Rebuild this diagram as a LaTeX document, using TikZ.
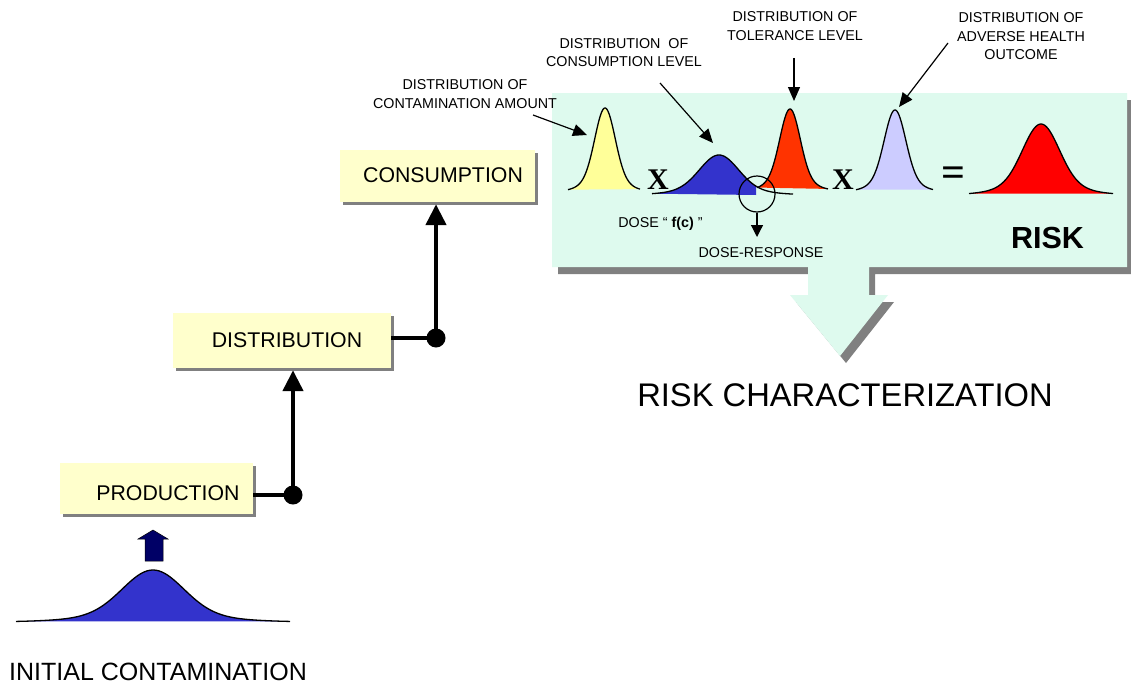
\documentclass[tikz,border=0pt]{standalone}
\usepackage{fontspec}
\setmainfont{Liberation Sans}
\newfontfamily\symserif{Liberation Serif}
\usetikzlibrary{arrows.meta,shadows}

\definecolor{panelgreen}{HTML}{DEFAEE}
\definecolor{boxyellow}{HTML}{FFFFCC}
\definecolor{shadowgray}{HTML}{808080}
\definecolor{amountyellow}{HTML}{FFFF99}
\definecolor{doseblue}{HTML}{3333CC}
\definecolor{toleranceorange}{HTML}{FF3300}
\definecolor{outcomelilac}{HTML}{CCCCFF}
\definecolor{riskred}{HTML}{FF0000}
\definecolor{navyarrow}{HTML}{000066}

% bell-shaped distribution: left, right, centre, spread, baseline, height
\newcommand{\bellfill}[7]{%
  \fill[#7] plot[domain=#1:#2,samples=120]
    (\x,{#5-#6*(0.85*exp(-0.5*((\x-#3)/#4)^2)+0.15*exp(-0.125*((\x-#3)/#4)^2))}) -- cycle;}
\newcommand{\belldraw}[6]{%
  \draw[bellline] plot[domain=#1:#2,samples=120]
    (\x,{#5-#6*(0.85*exp(-0.5*((\x-#3)/#4)^2)+0.15*exp(-0.125*((\x-#3)/#4)^2))});}

\begin{document}
\begin{tikzpicture}[x=1pt,y=-1pt,
  bellline/.style={line width=1.3pt,line join=round},
  stagebox/.style={rectangle,fill=boxyellow,inner sep=0pt,
    drop shadow={shadow xshift=2.5pt,shadow yshift=-2.5pt,fill=shadowgray,opacity=1}},
  stagetext/.style={font=\fontsize{21.3}{24}\selectfont,anchor=base,inner sep=0pt},
  flow/.style={line width=4.5pt,-{Triangle[length=21pt,width=20pt]},shorten >=2pt},
  flowlink/.style={line width=4.5pt},
  joint/.style={circle,fill=black,inner sep=0pt,minimum size=19pt},
  small/.style={font=\fontsize{14.3}{18.5}\selectfont,align=center,inner sep=0pt},
  pointer/.style={line width=1.2pt,-{Triangle[length=14pt,width=12pt]}},
  mathsign/.style={font=\symserif\bfseries\fontsize{30}{32}\selectfont,anchor=base,inner sep=0pt}
]
\useasboundingbox (0,0) rectangle (1131,685);
\fill[white] (0,0) rectangle (1131,685);

% callout panel with its arrow, and shadow
\fill[shadowgray] (558,100) -- (1133,100) -- (1133,274) -- (875,274) -- (875,302)
  -- (894,302) -- (846,363) -- (796,302) -- (814,302) -- (814,274) -- (558,274) -- cycle;
\fill[panelgreen] (552,93) -- (1127,93) -- (1127,267) -- (869,267) -- (869,295)
  -- (888,295) -- (840,356) -- (790,295) -- (808,295) -- (808,267) -- (552,267) -- cycle;

% distributions inside the panel
\bellfill{568}{640}{605}{10}{192}{84}{amountyellow}
\belldraw{568}{640}{605}{10}{192}{84}
\fill[doseblue] plot[domain=652:756,samples=100]
  (\x,{195-40*(0.85*exp(-0.5*((\x-719)/19)^2)+0.15*exp(-0.125*((\x-719)/19)^2))})
  -- (756,195) -- cycle;
\bellfill{757}{828}{790}{10}{191}{82}{toleranceorange}
\belldraw{652}{793}{719}{19}{195}{40}
\belldraw{757}{828}{790}{10}{191}{82}
\bellfill{856}{933}{895}{10.5}{192}{82}{outcomelilac}
\belldraw{856}{933}{895}{10.5}{192}{82}
\bellfill{969}{1113}{1041}{18}{195}{71}{riskred}
\belldraw{969}{1113}{1041}{18}{195}{71}

\node[mathsign] (times1) at (658,189.5) {X};
\node[mathsign] (times2) at (843,189.5) {X};
\node[font=\symserif\bfseries\fontsize{42}{44}\selectfont,inner sep=0pt] (equals) at (953.5,176.5) {=};

% dose-response marker
\node[circle,draw,line width=1.2pt,minimum size=36pt,inner sep=0pt] (ring) at (757,194) {};
\coordinate (ringTip) at (757,237);
\draw[line width=1.2pt,-{Triangle[length=12pt,width=12pt]}] (ring.south) -- (ringTip);
\node[small,anchor=base] (dose) at (660.5,227.1) {DOSE “ \textbf{f(c)} ”};
\node[small,anchor=base] (response) at (761,257) {DOSE-RESPONSE};
\node[font=\bfseries\fontsize{30.5}{32}\selectfont,anchor=base,inner sep=0pt] (risk) at (1047.5,248) {RISK};

% labels with pointers
\node[small] (lblAmount) at (465,94) {DISTRIBUTION OF\\CONTAMINATION AMOUNT};
\node[small] (lblConsume) at (624,52.5) {DISTRIBUTION\ \ OF\\CONSUMPTION LEVEL};
\node[small] (lblTolerance) at (795,26) {DISTRIBUTION OF\\TOLERANCE LEVEL};
\node[small] (lblOutcome) at (1021,36.5) {DISTRIBUTION OF\\ADVERSE HEALTH\\OUTCOME};
\coordinate (amountFrom) at (533,115);   \coordinate (amountTo) at (587,135);
\coordinate (consumeFrom) at (660,83);   \coordinate (consumeTo) at (713,143);
\coordinate (toleranceFrom) at (794,58); \coordinate (toleranceTo) at (794,101);
\coordinate (outcomeFrom) at (948,43);   \coordinate (outcomeTo) at (899,107);
\draw[pointer] (amountFrom) -- (amountTo);
\draw[pointer] (consumeFrom) -- (consumeTo);
\draw[pointer] (toleranceFrom) -- (toleranceTo);
\draw[pointer] (outcomeFrom) -- (outcomeTo);

\node[font=\fontsize{32.7}{34}\selectfont,anchor=base,inner sep=0pt] (riskchar) at (845,406.5) {RISK CHARACTERIZATION};

% food chain stages
\node[stagebox,minimum width=193pt,minimum height=51pt] (prod) at (156.5,488.5) {};
\node[stagetext] (prodText) at (168,500.6) {PRODUCTION};
\node[stagebox,minimum width=218pt,minimum height=55pt] (dist) at (282,340.5) {};
\node[stagetext] (distText) at (287,347.6) {DISTRIBUTION};
\node[stagebox,minimum width=195pt,minimum height=52pt] (cons) at (437.5,176) {};
\node[stagetext] (consText) at (443,182.6) {CONSUMPTION};

\node[joint] (j1) at (293,495) {};
\node[joint] (j2) at (436,338) {};
\draw[flowlink] (prod.east |- j1) -- (j1.center);
\draw[flow] (j1.center) -- (dist.south -| j1);
\draw[flowlink] (dist.east |- j2) -- (j2.center);
\draw[flow] (j2.center) -- (cons.south -| j2);

% initial contamination
\bellfill{16}{290}{153}{30}{622}{52}{doseblue}
\belldraw{16}{290}{153}{30}{622}{52}
\filldraw[fill=navyarrow,draw=black,line width=0.5pt]
  (153,530) -- (168,539) -- (163,539) -- (163,561) -- (145,561) -- (145,539) -- (138,539) -- cycle;
\node[font=\fontsize{25}{27}\selectfont,anchor=base,inner sep=0pt] (initial) at (158,680.3) {INITIAL CONTAMINATION};
\end{tikzpicture}
\end{document}
